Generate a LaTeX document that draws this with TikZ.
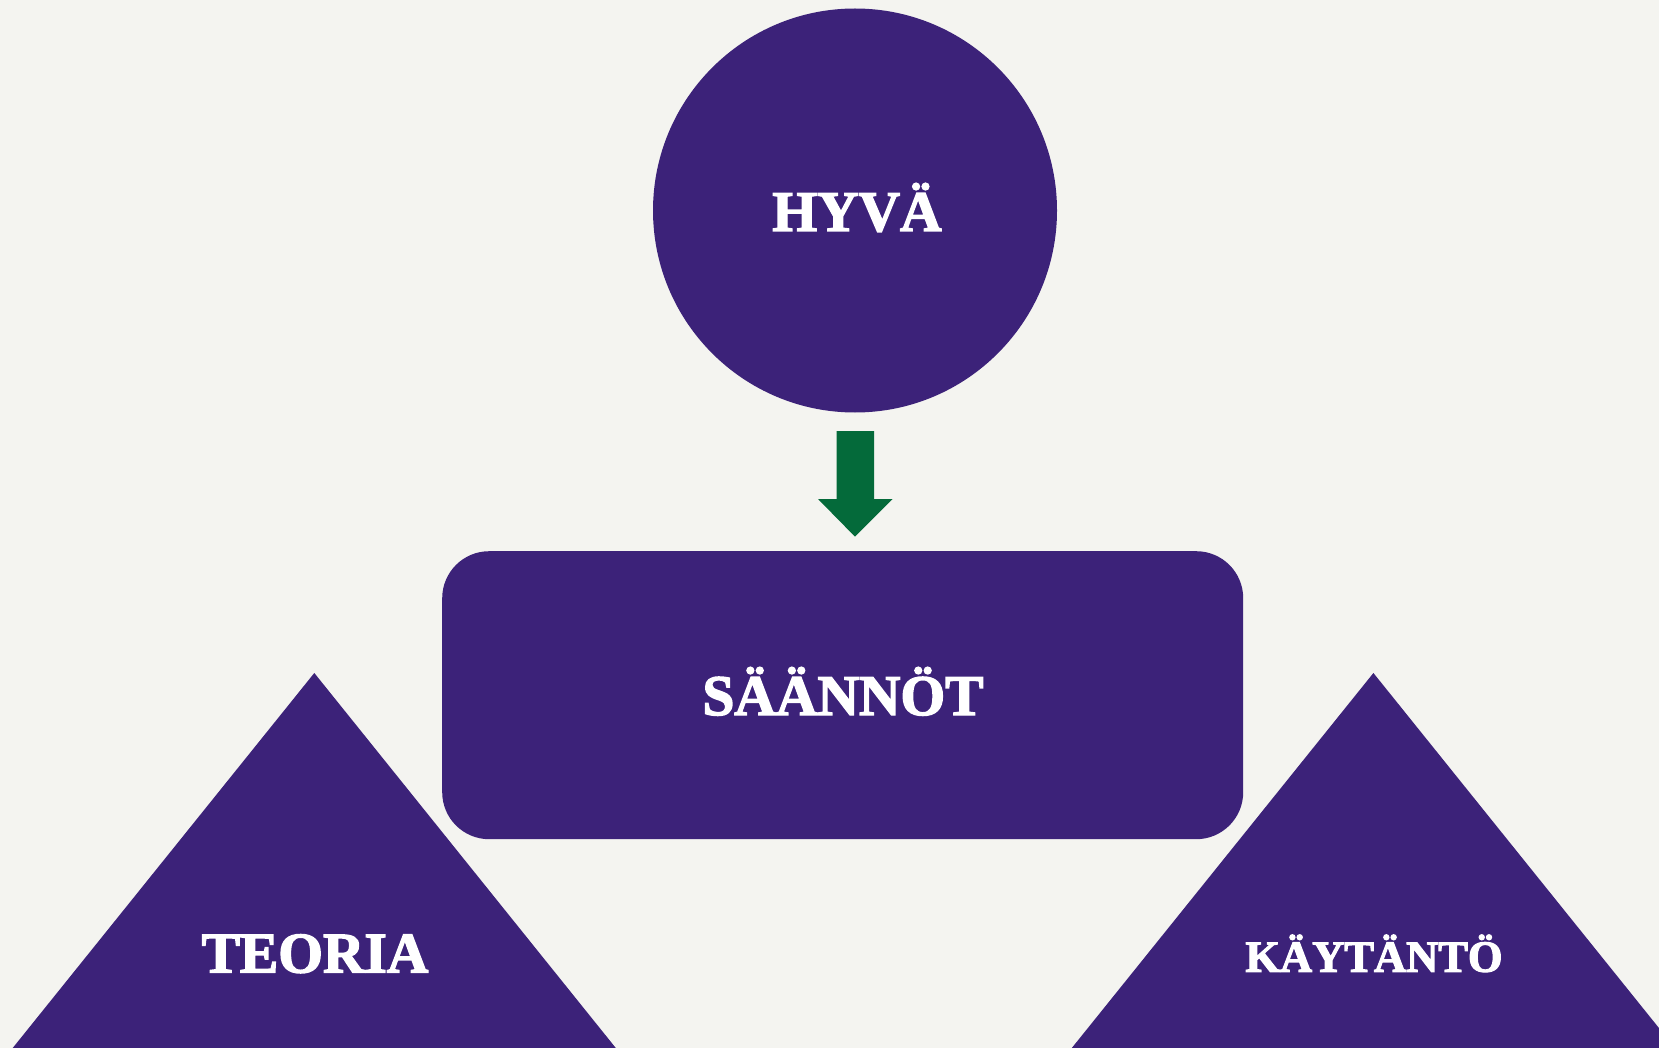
\documentclass[tikz,border=0pt]{standalone}
\usepackage{fontspec}
\setmainfont{Liberation Serif}
\newfontfamily\lblserif{Liberation Serif Bold}[FakeBold=2.5]
\definecolor{bgc}{HTML}{F4F4F0}
\definecolor{purp}{HTML}{3C2279}
\definecolor{grn}{HTML}{046A3A}
\begin{document}
\begin{tikzpicture}[x=1pt,y=-1pt,
  lbl/.style={text=white,font=\lblserif\fontsize{57.5}{60}\selectfont,anchor=base,inner sep=0pt},
  shp/.style={fill=purp,draw=none}]
\path[use as bounding box,fill=bgc] (0,0) rectangle (1659,1048);
\clip (0,0) rectangle (1659,1048);
% circle
\node[shp,circle,minimum size=404pt,inner sep=0pt] (hyva) at (855,210.5) {};
\node[lbl] (hyvat) at (857,231) {HYVÄ};
% arrow
\fill[grn] (836.7,431) -- (874,431) -- (874,499) -- (892.7,499) -- (855,536.7) -- (818,499) -- (836.7,499) -- cycle;
% rounded rect
\node[shp,rectangle,rounded corners=47pt,minimum width=801pt,minimum height=288pt,inner sep=0pt] (saannot) at (842.7,695.2) {};
\node[lbl] (saannott) at (843,715) {SÄÄNNÖT};
% triangles
\fill[purp] (314.3,673) -- (615.8,1048) -- (12.7,1048) -- cycle;
\fill[purp] (1373.4,673) -- (1675,1048) -- (1071.8,1048) -- cycle;
\node[lbl] (teoria) at (315,972.5) {TEORIA};
\node[lbl,font=\lblserif\fontsize{44.5}{48}\selectfont] (kaytanto) at (1374,971.7) {KÄYTÄNTÖ};
\end{tikzpicture}
\end{document}
